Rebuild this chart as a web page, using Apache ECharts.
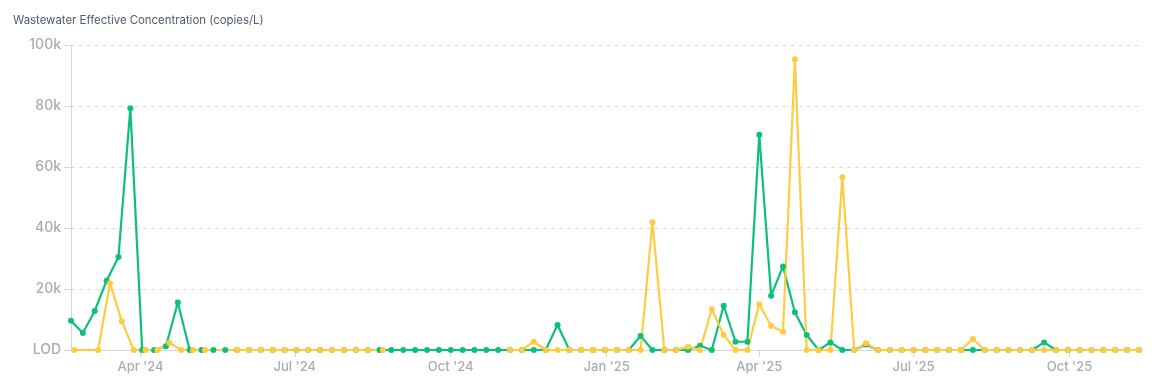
<!DOCTYPE html>
<html>
<head>
<meta charset="utf-8">
<script src="https://cdn.jsdelivr.net/npm/echarts@6/dist/echarts.min.js"></script>
<style>
  html, body { margin: 0; padding: 0; background: #ffffff; }
  #chart { width: 1167px; height: 389px; }
</style>
</head>
<body>
<div id="chart"></div>
<script>
// ---- Data ----
const greenDates = [
  '2024-02-20','2024-02-27','2024-03-05','2024-03-12','2024-03-19','2024-03-26','2024-04-02','2024-04-09','2024-04-16','2024-04-23',
  '2024-04-30','2024-05-07','2024-05-14','2024-05-21','2024-05-28','2024-06-04','2024-06-11','2024-06-18','2024-06-25','2024-07-02',
  '2024-07-09','2024-07-16','2024-07-23','2024-07-30','2024-08-06','2024-08-13','2024-08-20','2024-08-27','2024-09-03','2024-09-10',
  '2024-09-17','2024-09-24','2024-10-01','2024-10-08','2024-10-15','2024-10-22','2024-10-29','2024-11-05','2024-11-12','2024-11-19',
  '2024-11-26','2024-12-03','2024-12-10','2024-12-17','2024-12-24','2024-12-31','2025-01-07','2025-01-14','2025-01-21','2025-01-28',
  '2025-02-04','2025-02-11','2025-02-18','2025-02-25','2025-03-04','2025-03-11','2025-03-18','2025-03-25','2025-04-01','2025-04-08',
  '2025-04-15','2025-04-22','2025-04-29','2025-05-06','2025-05-13','2025-05-20','2025-05-27','2025-06-03','2025-06-10','2025-06-17',
  '2025-06-24','2025-07-01','2025-07-08','2025-07-15','2025-07-22','2025-07-29','2025-08-05','2025-08-12','2025-08-19','2025-08-26',
  '2025-09-02','2025-09-09','2025-09-16','2025-09-23','2025-09-30','2025-10-07','2025-10-14','2025-10-21','2025-10-28','2025-11-04',
  '2025-11-11'
];
const greenValues = [
  9600, 5600, 12800, 22700, 30500, 79300, 0, 0, 1200, 15600,
  0, 0, 0, 0, 0, 0, 0, 0, 0, 0,
  0, 0, 0, 0, 0, 0, 0, 0, 0, 0,
  0, 0, 0, 0, 0, 0, 0, 0, 0, 0,
  0, 8200, 0, 0, 0, 0, 0, 0, 4600, 0,
  0, 0, 0, 1400, 0, 14500, 2700, 2700, 70600, 17800,
  27400, 12400, 4900, 0, 2500, 0, 0, 1800, 0, 0,
  0, 0, 0, 0, 0, 0, 0, 0, 0, 0,
  0, 0, 2500, 0, 0, 0, 0, 0, 0, 0,
  0
];

const yellowDates = [
  '2024-02-22','2024-03-07','2024-03-14','2024-03-21','2024-03-28','2024-04-04','2024-04-11','2024-04-18','2024-04-25','2024-05-02',
  '2024-05-09','2024-05-28','2024-06-04','2024-06-11','2024-06-18','2024-06-25','2024-07-02','2024-07-09','2024-07-16','2024-07-23',
  '2024-07-30','2024-08-06','2024-08-13','2024-08-22','2024-10-01','2024-11-05','2024-11-12','2024-11-19','2024-11-26','2024-12-03',
  '2024-12-10','2024-12-17','2024-12-24','2024-12-31','2025-01-07','2025-01-14','2025-01-21','2025-01-28','2025-02-04','2025-02-11',
  '2025-02-18','2025-02-25','2025-03-04','2025-03-11','2025-03-18','2025-03-25','2025-04-01','2025-04-08','2025-04-15','2025-04-22',
  '2025-04-29','2025-05-06','2025-05-13','2025-05-20','2025-05-27','2025-06-03','2025-06-10','2025-06-17','2025-06-24','2025-07-01',
  '2025-07-08','2025-07-15','2025-07-22','2025-07-29','2025-08-05','2025-08-12','2025-08-19','2025-08-26','2025-09-02','2025-09-09',
  '2025-09-16','2025-09-23','2025-09-30','2025-10-07','2025-10-14','2025-10-21','2025-10-28','2025-11-04','2025-11-11'
];
const yellowValues = [
  0, 0, 21900, 9400, 0, 0, 0, 2400, 0, 0,
  0, 0, 0, 0, 0, 0, 0, 0, 0, 0,
  0, 0, 0, 0, null, 0, 0, 2700, 0, 0,
  0, 0, 0, 0, 0, 0, 0, 41900, 0, 0,
  1100, 0, 13400, 4900, 0, 0, 15000, 7900, 6000, 95300,
  0, 0, 0, 56600, 0, 2200, 0, 0, 0, 0,
  0, 0, 0, 0, 3600, 0, 0, 0, 0, 0,
  0, 0, 0, 0, 0, 0, 0, 0, 0
];

const xTickDates = ['2024-04-01', '2024-07-01', '2024-10-01', '2025-01-01', '2025-04-01', '2025-07-01', '2025-10-01'];
const xTickLabels = ["Apr '24", "Jul '24", "Oct '24", "Jan '25", "Apr '25", "Jul '25", "Oct '25"];
const yTickValues = [0, 20000, 40000, 60000, 80000, 100000];
const yTickLabels = ['LOD', '20k', '40k', '60k', '80k', '100k'];

const titleText = 'Wastewater Effective Concentration (copies/L)';

// ---- Build ----
const ts = (d) => {
  const p = d.split('-').map(Number);
  return Date.UTC(p[0], p[1] - 1, p[2]);
};
const xTickTs = xTickDates.map(ts);
const xLabelMap = {};
xTickTs.forEach((t, i) => { xLabelMap[t] = xTickLabels[i]; });
const yLabelMap = {};
yTickValues.forEach((v, i) => { yLabelMap[v] = yTickLabels[i]; });

const greenData = greenDates.map((d, i) => [ts(d), greenValues[i] === null ? '-' : greenValues[i]]);
const yellowData = yellowDates.map((d, i) => [ts(d), yellowValues[i] === null ? '-' : yellowValues[i]]);

const allTs = greenDates.concat(yellowDates).map(ts);
const xMin = Math.min.apply(null, allTs);
const xMax = Math.max.apply(null, allTs);

const FONT = 'Inter, "Noto Sans", sans-serif';
const GREEN = '#0cc07b';
const YELLOW = '#ffcb42';

const chart = echarts.init(document.getElementById('chart'), null, { renderer: 'canvas' });
chart.setOption({
  animation: false,
  backgroundColor: '#ffffff',
  title: {
    text: titleText,
    left: 8,
    top: 10,
    textStyle: { fontFamily: FONT, fontSize: 11.4, fontWeight: 'normal', color: '#4d5a70' }
  },
  grid: { left: 71, right: 28, top: 45, bottom: 39 },
  xAxis: {
    type: 'value',
    min: xMin,
    max: xMax,
    scale: true,
    axisLine: { show: true, lineStyle: { color: '#d6d6d6', width: 1 } },
    axisTick: { show: true, length: 7, customValues: xTickTs, lineStyle: { color: '#d6d6d6' } },
    axisLabel: {
      customValues: xTickTs,
      formatter: (v) => xLabelMap[v] || '',
      margin: 11,
      fontFamily: FONT,
      fontSize: 13,
      fontWeight: 500,
      color: '#acacac'
    },
    splitLine: { show: false },
    minorTick: { show: false }
  },
  yAxis: {
    type: 'value',
    min: 0,
    max: 100000,
    interval: 20000,
    axisLine: { show: true, lineStyle: { color: '#d6d6d6', width: 1 } },
    axisTick: { show: true, length: 7, lineStyle: { color: '#d6d6d6' } },
    axisLabel: {
      formatter: (v) => yLabelMap[v] !== undefined ? yLabelMap[v] : '',
      margin: 10,
      fontFamily: FONT,
      fontSize: 14,
      fontWeight: 500,
      color: '#acacac'
    },
    splitLine: { show: true, lineStyle: { color: '#dcdcdc', type: [4, 4], width: 1 } }
  },
  series: [
    {
      type: 'line',
      data: greenData,
      showAllSymbol: true,
      symbol: 'circle',
      symbolSize: 6,
      connectNulls: false,
      lineStyle: { color: GREEN, width: 2.2 },
      itemStyle: { color: GREEN },
      emphasis: { disabled: true }
    },
    {
      type: 'line',
      data: yellowData,
      showAllSymbol: true,
      symbol: 'circle',
      symbolSize: 6,
      connectNulls: false,
      lineStyle: { color: YELLOW, width: 2.2 },
      itemStyle: { color: YELLOW },
      emphasis: { disabled: true }
    }
  ]
});
</script>
</body>
</html>
